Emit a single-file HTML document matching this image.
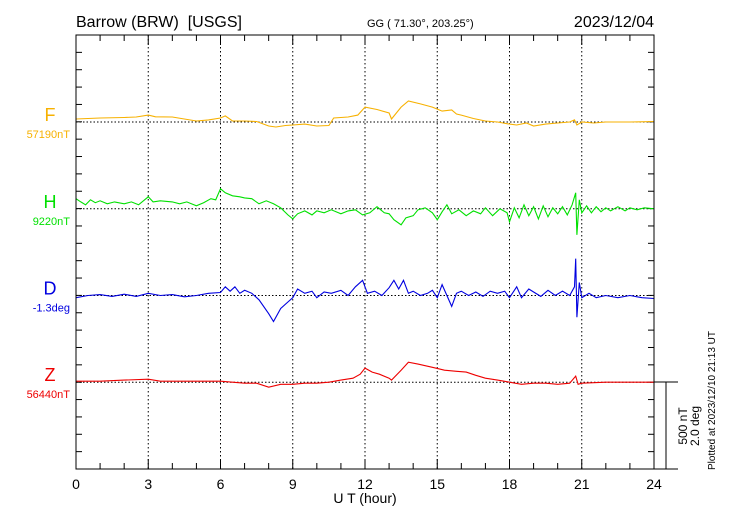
<!DOCTYPE html>
<html><head><meta charset="utf-8"><style>
body{margin:0;background:#fff}
svg{display:block;font-family:"Liberation Sans",sans-serif}
</style></head><body>
<svg id="chart" width="730" height="520" viewBox="0 0 730 520">
<text x="76" y="27" font-size="16" style="white-space:pre">Barrow (BRW)  [USGS]</text>
<text x="367" y="27" font-size="11">GG ( 71.30°, 203.25°)</text>
<text x="654" y="27" font-size="16" text-anchor="end">2023/12/04</text>
<g id="grid"></g>
<g id="series"></g>
<rect x="76" y="35" width="578" height="434" fill="none" stroke="#000" stroke-width="1"/>
<line x1="654" y1="382" x2="678" y2="382" stroke="#000"/>
<line x1="654" y1="469" x2="678" y2="469" stroke="#000"/>
<line x1="666" y1="382" x2="666" y2="469" stroke="#000"/>
<text transform="translate(687,426) rotate(-90)" font-size="12" text-anchor="middle">500 nT</text>
<text transform="translate(699,426) rotate(-90)" font-size="12" text-anchor="middle">2.0 deg</text>
<text transform="translate(715,470) rotate(-90)" font-size="10">Plotted at 2023/12/10 21:13 UT</text>
<text x="365" y="503" font-size="14" text-anchor="middle">U T (hour)</text>
</svg>
<script>
const xTicks=[0,3,6,9,12,15,18,21,24];
const seriesNames=["F","H","D","Z"];
const seriesBase=["57190nT","9220nT","-1.3deg","56440nT"];
const seriesColors=["#f7b100","#00e000","#0000e0","#ee0000"];
const fData=[[0,17],[0.5,20],[1,23],[2,26],[2.5,29],[3,40],[3.3,30],[4,29],[5,6],[5.5,12],[6,23],[6.2,35],[6.5,6],[7,6],[7.5,3],[8,-23],[8.3,-29],[8.7,-20],[9,-17],[9.5,-12],[10,-23],[10.5,-20],[10.7,23],[11.3,29],[11.7,40],[12,86],[12.5,72],[13,52],[13.1,17],[13.5,86],[13.8,121],[14.3,104],[14.8,86],[15.2,63],[15.6,69],[15.8,46],[16,40],[16.5,20],[17,6],[17.5,0],[18,-12],[18.3,-17],[18.7,-6],[19,-23],[19.5,-12],[20,-6],[20.5,0],[20.7,12],[20.8,-17],[21,0],[21.5,-6],[22,0],[23,0],[24,3]];
const hData=[[0,58],[0.2,40],[0.4,23],[0.6,52],[0.8,35],[1,46],[1.3,29],[1.6,40],[2,29],[2.3,40],[2.6,23],[3,69],[3.2,40],[3.5,46],[4,40],[4.3,29],[4.6,40],[5,17],[5.3,35],[5.6,58],[5.8,52],[6,115],[6.2,92],[6.5,75],[6.8,69],[7,63],[7.3,58],[7.6,29],[7.9,46],[8.2,29],[8.5,6],[8.8,-35],[9,-58],[9.2,-29],[9.5,-12],[9.8,-35],[10,-12],[10.3,-23],[10.6,-6],[11,-29],[11.3,-12],[11.6,-6],[11.9,-35],[12.2,-23],[12.5,12],[12.8,-23],[13,-29],[13.2,-63],[13.5,-92],[13.7,-52],[14,-40],[14.2,-6],[14.5,6],[14.8,-23],[15,-63],[15.2,-17],[15.4,23],[15.6,-29],[15.9,-6],[16.2,-40],[16.5,-12],[16.8,-29],[17,6],[17.3,-40],[17.6,0],[17.9,-23],[18,-75],[18.2,6],[18.4,-52],[18.6,23],[18.8,-40],[19,12],[19.2,-58],[19.4,17],[19.6,-46],[19.8,6],[20,-29],[20.2,12],[20.4,-35],[20.6,23],[20.75,92],[20.8,-150],[20.9,52],[21,-23],[21.2,17],[21.4,-23],[21.6,12],[21.8,-17],[22,6],[22.2,-12],[22.5,12],[22.8,-12],[23,6],[23.3,-6],[23.6,6],[24,0]];
const dData=[[0,-0.05],[0.5,0],[1,0.02],[1.5,-0.02],[2,0.03],[2.5,-0.02],[3,0.05],[3.5,0],[4,0.02],[4.5,-0.03],[5,0],[5.5,0.05],[6,0.07],[6.2,0.2],[6.4,0.1],[6.6,0.2],[6.8,0.05],[7,0.12],[7.3,0.05],[7.6,-0.1],[8,-0.42],[8.2,-0.6],[8.5,-0.3],[8.8,-0.15],[9,-0.05],[9.2,0.15],[9.5,0.05],[9.8,0.1],[10,-0.05],[10.3,0.08],[10.6,0.05],[11,0.12],[11.3,0],[11.6,0.2],[11.9,0.35],[12.1,0.05],[12.4,0.1],[12.7,0],[13,0.18],[13.2,0.35],[13.4,0.15],[13.6,0.35],[13.8,0.05],[14,0.1],[14.3,0],[14.6,0.05],[14.8,0.12],[15,-0.05],[15.2,0.25],[15.4,0],[15.6,-0.25],[15.8,0.05],[16,0.1],[16.3,0],[16.6,0.08],[16.9,-0.02],[17.2,0.1],[17.5,0.05],[17.8,0.1],[18,-0.05],[18.3,0.2],[18.5,-0.05],[18.8,0.15],[19,0.08],[19.3,-0.02],[19.6,0.12],[19.9,0],[20.2,0.1],[20.5,0],[20.7,0.2],[20.75,0.85],[20.8,-0.5],[20.9,0.3],[21,-0.05],[21.3,0.05],[21.6,-0.05],[22,0],[22.5,-0.05],[23,0],[23.5,-0.05],[24,-0.07]];
const zData=[[0,6],[1,6],[2,12],[3,17],[3.5,6],[4,6],[5,6],[6,6],[6.5,0],[7,-6],[7.5,-6],[8,-29],[8.5,-12],[9,-12],[9.5,-6],[10,-6],[10.5,0],[11,12],[11.5,23],[11.8,46],[12,81],[12.3,58],[12.6,46],[13,23],[13.1,12],[13.5,69],[13.8,115],[14.2,104],[14.8,86],[15.3,69],[15.8,63],[16.2,58],[16.6,40],[17,23],[17.5,12],[18,0],[18.5,-12],[19,-6],[19.5,-6],[20,-12],[20.5,-6],[20.75,35],[20.85,-12],[21,-6],[22,0],[23,0],[24,0]];

const NS="http://www.w3.org/2000/svg";
const L=76,R=654,T=35,B=469,tick=(B-T)/25;
const xs=h=>L+h*(R-L)/24;
const bases=[122,208.8,295.5,382.2];
const ntY=(b,v)=>b-v*(5*tick)/500;
const degY=(b,v)=>b-v*(5*tick)/2;
const grid=document.getElementById('grid');
function mk(tag,attrs,parent){const e=document.createElementNS(NS,tag);for(const k in attrs)e.setAttribute(k,attrs[k]);parent.appendChild(e);return e;}
xTicks.forEach((h,i)=>{
  if(h>0&&h<24){const g=mk('line',{x1:xs(h),x2:xs(h),y1:T,y2:B,stroke:'#000','stroke-dasharray':'1.5,2.5','stroke-width':1},grid);
  
  }
  const t=mk('text',{x:xs(h),y:489,'font-size':14,'text-anchor':'middle'},grid);
  
  
  t.textContent=h;
});
for(let h=0;h<=24;h++){
  const len=h%3===0?10:6;
  const a=mk('line',{x1:xs(h),x2:xs(h),y1:T,y2:T+len,stroke:'#000'},grid);
  
  
  const b=mk('line',{x1:xs(h),x2:xs(h),y1:B,y2:B-len,stroke:'#000'},grid);
  
  
}
for(let k=1;k<25;k++){
  const y=T+k*tick;
  const a=mk('line',{x1:L,x2:L+6,y1:y,y2:y,stroke:'#000'},grid);
  
  
  const b=mk('line',{x1:R,x2:R-6,y1:y,y2:y,stroke:'#000'},grid);
  
  
}
const sg=document.getElementById('series');
const datas=[fData,hData,dData,zData];
seriesNames.forEach((n,i)=>{
  const b=bases[i];
  const bl=mk('line',{x1:L,x2:R,y1:b,y2:b,stroke:'#000','stroke-dasharray':'1.5,2','stroke-width':1},sg);
  
  
  const yf=n==='D'?degY:ntY;
  const pts=datas[i].map(p=>xs(p[0]).toFixed(1)+','+yf(b,p[1]).toFixed(1)).join(' ');
  const pl=mk('polyline',{points:pts,fill:'none',stroke:seriesColors[i],'stroke-width':1.1},sg);
  
  
  const lab=mk('text',{x:50,y:b-1,'font-size':18,'text-anchor':'middle',fill:seriesColors[i]},sg);
  
  
  lab.textContent=n;
  const bv=mk('text',{x:70,y:b+16,'font-size':11,'text-anchor':'end',fill:seriesColors[i]},sg);
  
  
  bv.textContent=seriesBase[i];
});
</script>
</body></html>
